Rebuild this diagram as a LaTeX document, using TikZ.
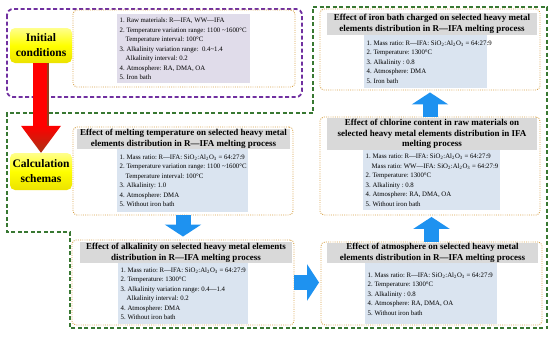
\documentclass[tikz,border=0pt]{standalone}
\usepackage{fontspec}
\setmainfont{Liberation Serif}
\usetikzlibrary{arrows.meta,calc}
\definecolor{orng}{RGB}{214,162,74}
\definecolor{purp}{RGB}{112,48,160}
\definecolor{grn}{RGB}{56,120,50}
\definecolor{bandgray}{RGB}{217,217,217}
\definecolor{infoblue}{RGB}{218,228,240}
\definecolor{lav}{RGB}{224,220,234}
\definecolor{arrblue}{RGB}{30,146,240}
\definecolor{rshade}{RGB}{150,60,30}
\definecolor{rhead}{RGB}{170,50,20}
\definecolor{ytop}{RGB}{255,255,140}
\definecolor{ybot}{RGB}{236,226,0}
\newcommand{\nsp}{\frenchspacing\spaceskip=0pt\xspaceskip=0pt\relax}
\newcommand{\massR}{1. Mass ratio: R—IFA: SiO\textsubscript{2}:Al\textsubscript{2}O\textsubscript{3} = 64:27:9}
\begin{document}
\begin{tikzpicture}[x=1pt,y=-1pt,
 panel/.style={draw=orng, line width=0.9pt, dash pattern=on 0.9pt off 1.3pt, rounded corners=4pt, inner sep=0pt},
 titleband/.style={fill=bandgray, inner sep=0pt, align=center, font=\bfseries\fontsize{9}{11}\selectfont},
 infobox/.style={fill=infoblue, inner xsep=2.5pt, inner ysep=0pt, align=left, anchor=north west, font=\fontsize{6.8}{9.5}\selectfont},
 ybox/.style={rounded corners=5pt, inner sep=0pt, align=center, top color=ytop, bottom color=ybot, middle color=yellow, font=\bfseries\fontsize{11.5}{15}\selectfont},
 blockarrow/.style={draw=arrblue, line width=15pt, -{Triangle[length=12pt,width=36pt]}},
 frame/.style={line width=1.8pt, dash pattern=on 4pt off 2.5pt}
]
\path[use as bounding box] (0,0) rectangle (550,338);

% frames
\draw[frame, draw=grn] (313,7) -- (547,7) -- (547,328) -- (70,328) -- (70,232) -- (7,232) -- (7,113) -- (313,113) -- cycle;
\draw[frame, draw=purp, rounded corners=6pt] (7,9) rectangle (302,97);

% panel 0: initial conditions details
\node[panel, minimum width=222pt, minimum height=77pt] (p0) at (184,48.5) {};
\node[infobox, fill=lav, text width=128pt, minimum height=69pt] (i0) at (117,14) {\nsp
\mbox{1. Raw materials: R—IFA, WW—IFA}\\
\mbox{2. Temperature variation range: 1100 \textasciitilde1600°C}\\
\mbox{\hspace*{6pt}Temperature interval: 100°C}\\
\mbox{3. Alkalinity variation range:\ \ 0.4\textasciitilde1.4}\\
\mbox{\hspace*{6pt}Alkalinity interval: 0.2}\\
\mbox{4. Atmosphere: RA, DMA, OA}\\
\mbox{5. Iron bath}};

% panel 1: iron bath
\node[panel, minimum width=220pt, minimum height=81pt] (p1) at (430,49.5) {};
\node[titleband, minimum width=210pt, minimum height=22pt] (t1) at (432,24) {\nsp Effect of iron bath charged on selected heavy metal\\elements distribution in R—IFA melting process};
\node[infobox, text width=118pt, minimum height=53pt] (i1) at (364,35) {\nsp
\mbox{\massR}\\
\mbox{2. Temperature: 1300°C}\\
\mbox{3. Alkalinity : 0.8}\\
\mbox{4. Atmosphere: DMA}\\
\mbox{5. Iron bath}};

% panel 2: chlorine
\node[panel, minimum width=220pt, minimum height=98pt] (p2) at (430,166) {};
\node[titleband, minimum width=210pt, minimum height=32pt, font=\bfseries\fontsize{9}{10.3}\selectfont] (t2) at (432,134) {\nsp Effect of chlorine content in raw materials on\\selected heavy metal elements distribution in IFA\\melting process};
\node[infobox, text width=132pt, minimum height=60pt] (i2) at (363,150) {\nsp
\mbox{\massR}\\
\mbox{\hspace*{6pt}Mass ratio: WW—IFA: SiO\textsubscript{2}:Al\textsubscript{2}O\textsubscript{3} = 64:27:9}\\
\mbox{2. Temperature: 1300°C}\\
\mbox{3. Alkalinity : 0.8}\\
\mbox{4. Atmosphere: RA, DMA, OA}\\
\mbox{5. Without iron bath}};

% panel 3: atmosphere
\node[panel, minimum width=221pt, minimum height=83pt] (p3) at (431.5,283.5) {};
\node[titleband, minimum width=211pt, minimum height=20pt] (t3) at (432.5,253) {\nsp Effect of atmosphere on selected heavy metal\\elements distribution in R—IFA melting process};
\node[infobox, text width=127pt, minimum height=61pt] (i3) at (365,263) {\nsp
\mbox{\massR}\\
\mbox{2. Temperature: 1300°C}\\
\mbox{3. Alkalinity : 0.8}\\
\mbox{4. Atmosphere: RA, DMA, OA}\\
\mbox{5. Without iron bath}};

% panel 4: melting temperature
\node[panel, minimum width=220pt, minimum height=88pt] (p4) at (183,171) {};
\node[titleband, minimum width=213pt, minimum height=20pt] (t4) at (183.5,139) {\nsp Effect of melting temperature on selected heavy metal\\elements distribution in R—IFA melting process};
\node[infobox, text width=126pt, minimum height=63pt] (i4) at (117,149) {\nsp
\mbox{\massR}\\
\mbox{2. Temperature variation range: 1100 \textasciitilde1600°C}\\
\mbox{\hspace*{6pt}Temperature interval: 100°C}\\
\mbox{3. Alkalinity: 1.0}\\
\mbox{4. Atmosphere: DMA}\\
\mbox{5. Without iron bath}};

% panel 5: alkalinity
\node[panel, minimum width=222pt, minimum height=85pt] (p5) at (183,282.5) {};
\node[titleband, minimum width=212pt, minimum height=21pt] (t5) at (186,252.5) {\nsp Effect of alkalinity on selected heavy metal elements\\distribution in R—IFA melting process};
\node[infobox, text width=125pt, minimum height=61pt] (i5) at (118,263) {\nsp
\mbox{\massR}\\
\mbox{2. Temperature: 1300°C}\\
\mbox{3. Alkalinity variation range: 0.4—1.4}\\
\mbox{\hspace*{6pt}Alkalinity interval: 0.2}\\
\mbox{4. Atmosphere: DMA}\\
\mbox{5. Without iron bath}};

% blue arrows
\draw[blockarrow, shorten >=3pt] (p4.south) -- (p5.north);
\draw[blockarrow, shorten >=1.5pt] (p5.east) -- (p5.east -| p3.west);
\draw[blockarrow, shorten >=1.5pt] (p3.north) -- (p3.north |- p2.south);
\draw[blockarrow, shorten >=2pt] (p2.north) -- (p1.south);

% yellow boxes
\node[ybox, minimum width=62pt, minimum height=35pt] (init) at (41,45.5) {Initial\\conditions};
\node[ybox, minimum width=62pt, minimum height=37pt] (calc) at (41,171.5) {Calculation\\schemas};

% red arrow
\coordinate (rtop) at (init.south);
\coordinate (rtip) at (calc.north);
\fill[red] ($(rtop)+(-8,0)$) rectangle ($(rtip)+(6,-27)$);
\fill[rshade] ($(rtop)+(6,0)$) rectangle ($(rtip)+(8,-27)$);
\shade[top color=red, bottom color=rhead] ($(rtip)+(-20,-27)$) -- ($(rtip)+(20,-27)$) -- (rtip) -- cycle;
\end{tikzpicture}
\end{document}
